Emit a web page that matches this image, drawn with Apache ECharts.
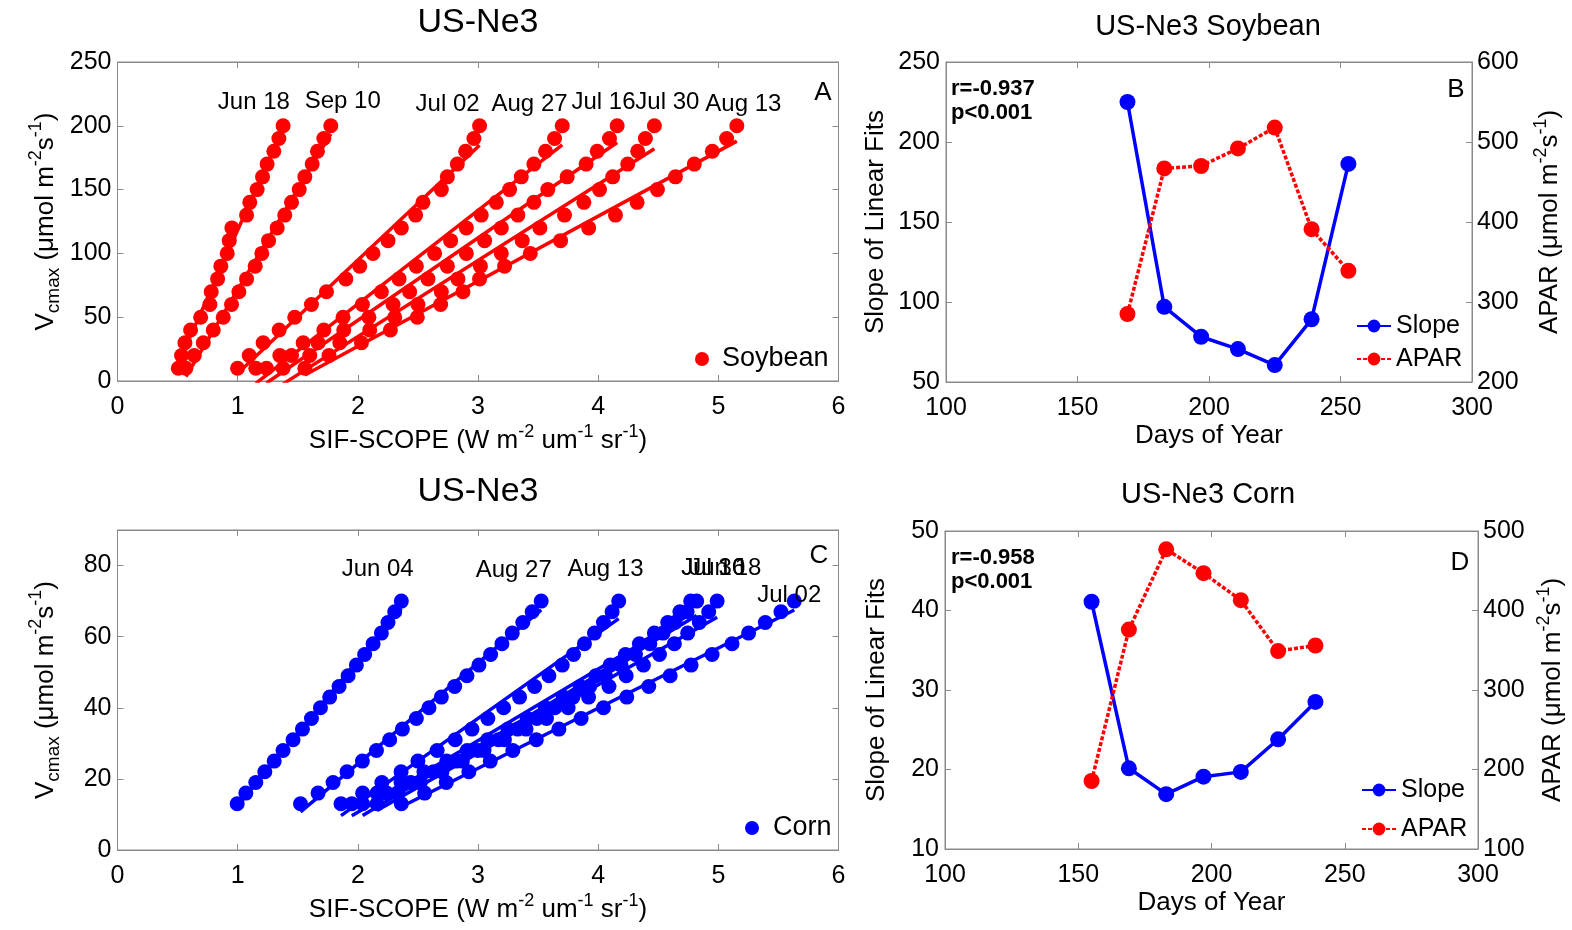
<!DOCTYPE html>
<html><head><meta charset="utf-8">
<script src="https://cdn.jsdelivr.net/npm/echarts@6/dist/echarts.min.js"></script>
<style>html,body{margin:0;padding:0;background:#fff}#c{width:1572px;height:930px}</style>
</head><body><div id="c"></div>
<script>
// ---------------- data ----------------
const soyDates = ['Jun 18','Sep 10','Jul 02','Aug 27','Jul 16','Jul 30','Aug 13'];
const soyVcmax = [10,20,30,40,50,60,70,80,90,100,110,120,130,140,150,160,170,180,190,200];
const soySifJun18 = [0.506,0.533,0.561,0.608,0.692,0.769,0.780,0.833,0.860,0.913,0.930,0.952,1.074,1.101,1.162,1.207,1.245,1.301,1.343,1.378];
const soySifSep10 = [0.569,0.639,0.714,0.797,0.880,0.949,1.010,1.074,1.146,1.201,1.257,1.329,1.392,1.448,1.512,1.559,1.620,1.664,1.717,1.775];
const soySifJul02 = [0.999,1.096,1.212,1.345,1.475,1.614,1.739,1.900,2.016,2.126,2.251,2.362,2.481,2.542,2.695,2.745,2.828,2.897,2.966,3.013];
const soySifAug27 = [1.151,1.351,1.545,1.717,1.877,2.038,2.196,2.343,2.487,2.639,2.772,2.903,3.027,3.152,3.263,3.360,3.465,3.562,3.637,3.701];
const soySifJul16 = [1.240,1.448,1.669,1.883,2.092,2.293,2.431,2.584,2.745,2.903,3.055,3.194,3.332,3.465,3.581,3.742,3.900,3.992,4.094,4.158];
const soySifJul30 = [1.378,1.600,1.850,2.099,2.307,2.500,2.695,2.833,3.020,3.194,3.368,3.515,3.720,3.881,4.011,4.121,4.246,4.329,4.393,4.468];
const soySifAug13 = [1.559,1.760,2.030,2.271,2.495,2.689,2.875,3.013,3.221,3.435,3.687,3.921,4.144,4.324,4.493,4.643,4.800,4.950,5.069,5.154];
const soySifs = [soySifJun18,soySifSep10,soySifJul02,soySifAug27,soySifJul16,soySifJul30,soySifAug13];

const cornDates = ['Jun 04','Aug 27','Aug 13','Jul 16','Jul 30','Jun 18','Jul 02'];
const cornVcmax = [13,16,19,22,25,28,31,34,37,40,43,46,49,52,55,58,61,64,67,70];
const cornSifJun04 = [0.996,1.068,1.151,1.226,1.304,1.378,1.461,1.539,1.614,1.689,1.766,1.844,1.919,1.988,2.057,2.127,2.196,2.251,2.307,2.362];
const cornSifAug27 = [1.523,1.669,1.794,1.910,2.038,2.155,2.265,2.371,2.487,2.592,2.695,2.806,2.908,3.008,3.105,3.199,3.285,3.373,3.451,3.526];
const cornSifAug13 = [1.86,2.04,2.20,2.36,2.50,2.66,2.81,2.95,3.082,3.213,3.346,3.471,3.590,3.701,3.795,3.886,3.969,4.044,4.116,4.171];
const cornSifJul16 = [1.95,2.16,2.36,2.55,2.74,2.91,3.08,3.25,3.41,3.56,3.71,3.85,3.98,4.10,4.227,4.343,4.468,4.579,4.68,4.77];
const cornSifJul30 = [2.04,2.24,2.44,2.63,2.82,3.00,3.17,3.33,3.49,3.64,3.79,3.93,4.06,4.19,4.31,4.43,4.54,4.64,4.74,4.82];
const cornSifJun18 = [2.16,2.33,2.52,2.70,2.87,3.05,3.22,3.40,3.57,3.75,3.92,4.09,4.233,4.377,4.51,4.634,4.745,4.842,4.92,4.99];
const cornSifJul02 = [2.362,2.556,2.736,2.924,3.102,3.290,3.485,3.673,3.858,4.044,4.238,4.421,4.599,4.773,4.948,5.114,5.252,5.391,5.521,5.632];
const cornSifs = [cornSifJun04,cornSifAug27,cornSifAug13,cornSifJul16,cornSifJul30,cornSifJun18,cornSifJul02];

const soyDays  = [169,183,197,211,225,239,253];
const soySlope = [225,97,78.3,70.6,60.6,89.2,186.3];
const soyApar  = [285,467,470,492,518,391,339];
const cornDays  = [155,169,183,197,211,225,239];
const cornSlope = [41.1,20.15,16.9,19.1,19.7,23.8,28.5];
const cornApar  = [185.5,376,477,447,413,349,356];

// ---------------- layout (label anchors, in data units) ----------------
const soyLabelAt  = [[1.135,218],[1.874,219],[2.747,217],[3.429,217],[4.044,218],[4.576,218],[5.208,217]];
const cornLabelAt = [[2.165,78.9],[3.297,78.7],[4.061,78.9],[4.958,79.1],[4.958,79.1],[5.058,79.1],[5.59,71.5]];

const FONT = 'Liberation Sans, Arial, Helvetica, sans-serif';
const RED = '#ff0000', BLUE = '#0000ff', GRAY = '#8a8a8a';

function lsFit(xs, ys){
  const n = xs.length;
  const mx = xs.reduce((a,b)=>a+b,0)/n, my = ys.reduce((a,b)=>a+b,0)/n;
  let sxy=0, sxx=0;
  for(let i=0;i<n;i++){ sxy+=(xs[i]-mx)*(ys[i]-my); sxx+=(xs[i]-mx)*(xs[i]-mx); }
  const a = sxy/sxx, b = my - a*mx;
  const x0 = Math.min(...xs), x1 = Math.max(...xs);
  return [[x0, a*x0+b],[x1, a*x1+b]];
}

const supRich = {
  a:{fontSize:26, lineHeight:36, fontFamily:FONT, color:'#000'},
  sup:{fontSize:18, lineHeight:18, verticalAlign:'top', fontFamily:FONT, color:'#000'},
  sub:{fontSize:19, lineHeight:18, verticalAlign:'bottom', fontFamily:FONT, color:'#000'}
};

function axis(o){
  const base = {
    type:'value', gridIndex:o.grid, position:o.pos, min:o.min, max:o.max, interval:o.interval,
    splitLine:{show:false},
    axisLine:{show:true, onZero:false, lineStyle:{color:GRAY, width:1}},
    axisTick:{show:true, inside:true, length:6, lineStyle:{color:GRAY, width:1}},
    axisLabel:{show:o.label!==false, fontSize:25, fontFamily:FONT, color:'#000', margin:o.margin||6,
               showMaxLabel:o.showMax!==false},
    nameMoveOverlap:false
  };
  if(o.name){
    Object.assign(base,{name:o.name, nameLocation:'middle', nameGap:o.nameGap,
      nameRotate:o.nameRotate, nameTextStyle:{fontSize:26, fontFamily:FONT, color:'#000', lineHeight:36, rich:supRich}});
  }
  return base;
}

const grids = [
  {left:117.5, top:62, width:721, height:319},
  {left:946, top:62, width:526, height:320},
  {left:117.5, top:530, width:721, height:320},
  {left:945, top:531, width:533, height:318}
];

const sifName = '{a|SIF-SCOPE (W m}{sup|-2}{a| um}{sup|-1}{a| sr}{sup|-1}{a|)}';
const xAxes = [
  axis({grid:0,pos:'bottom',min:0,max:6,interval:1,margin:14,name:sifName, nameGap:42}),
  axis({grid:0,pos:'top',min:0,max:6,interval:1,label:false}),
  axis({grid:1,pos:'bottom',min:100,max:300,interval:50,margin:14,name:'{a|Days of Year}',nameGap:36}),
  axis({grid:1,pos:'top',min:100,max:300,interval:50,label:false}),
  axis({grid:2,pos:'bottom',min:0,max:6,interval:1,margin:14,name:sifName, nameGap:42}),
  axis({grid:2,pos:'top',min:0,max:6,interval:1,label:false}),
  axis({grid:3,pos:'bottom',min:100,max:300,interval:50,margin:14,name:'{a|Days of Year}',nameGap:36}),
  axis({grid:3,pos:'top',min:100,max:300,interval:50,label:false})
];
const vName = '{a|V}{sub|cmax}{a| (μmol m}{sup|-2}{a|s}{sup|-1}{a|)}';
const aparName = '{a|APAR (μmol m}{sup|-2}{a|s}{sup|-1}{a|)}';
const yAxes = [
  axis({grid:0,pos:'left',min:0,max:250,interval:50,name:vName,nameGap:54,nameRotate:90}),
  axis({grid:0,pos:'right',min:0,max:250,interval:50,label:false}),
  axis({grid:1,pos:'left',min:50,max:250,interval:50,name:'{a|Slope of Linear Fits}',nameGap:52,nameRotate:90}),
  axis({grid:1,pos:'right',min:200,max:600,interval:100,margin:5,name:aparName,nameGap:60,nameRotate:90}),
  axis({grid:2,pos:'left',min:0,max:90,interval:20,showMax:false,name:vName,nameGap:54,nameRotate:90}),
  axis({grid:2,pos:'right',min:0,max:90,interval:20,label:false}),
  axis({grid:3,pos:'left',min:10,max:50,interval:10,name:'{a|Slope of Linear Fits}',nameGap:50,nameRotate:90}),
  axis({grid:3,pos:'right',min:100,max:500,interval:100,margin:5,name:aparName,nameGap:57,nameRotate:90})
];

const series = [];
// Panel A: soybean scatter + fits
const soyPts = [];
soySifs.forEach(s => s.forEach((x,i)=>soyPts.push([x, soyVcmax[i]])));
series.push({name:'Soybean', type:'scatter', xAxisIndex:0, yAxisIndex:0, data:soyPts,
  symbolSize:15, itemStyle:{color:RED, opacity:1}, z:2});
soySifs.forEach((s,k)=>series.push({name:'soyfit'+k, type:'line', xAxisIndex:0, yAxisIndex:0,
  data:lsFit(s, soyVcmax), showSymbol:false, symbol:'none', lineStyle:{color:RED,width:3.5}, z:3, clip:true, silent:true}));

// Panel C: corn
const cornPts = [];
cornSifs.forEach(s => s.forEach((x,i)=>cornPts.push([x, cornVcmax[i]])));
series.push({name:'Corn', type:'scatter', xAxisIndex:4, yAxisIndex:4, data:cornPts,
  symbolSize:15, itemStyle:{color:BLUE, opacity:1}, z:2});
cornSifs.forEach((s,k)=>series.push({name:'cornfit'+k, type:'line', xAxisIndex:4, yAxisIndex:4,
  data:lsFit(s, cornVcmax), showSymbol:false, symbol:'none', lineStyle:{color:BLUE,width:3.5}, z:3, clip:true, silent:true}));

// Panel B
series.push({name:'Slope', type:'line', xAxisIndex:2, yAxisIndex:2,
  data:soyDays.map((d,i)=>[d,soySlope[i]]), symbol:'circle', symbolSize:16,
  lineStyle:{color:BLUE,width:3.5}, itemStyle:{color:BLUE}, z:3});
series.push({name:'APAR', type:'line', xAxisIndex:2, yAxisIndex:3,
  data:soyDays.map((d,i)=>[d,soyApar[i]]), symbol:'circle', symbolSize:16,
  lineStyle:{color:RED,width:3.5,type:[4,2]}, itemStyle:{color:RED}, z:3});
// Panel D
series.push({name:'Slope', type:'line', xAxisIndex:6, yAxisIndex:6,
  data:cornDays.map((d,i)=>[d,cornSlope[i]]), symbol:'circle', symbolSize:16,
  lineStyle:{color:BLUE,width:3.5}, itemStyle:{color:BLUE}, z:3});
series.push({name:'APAR', type:'line', xAxisIndex:6, yAxisIndex:7,
  data:cornDays.map((d,i)=>[d,cornApar[i]]), symbol:'circle', symbolSize:16,
  lineStyle:{color:RED,width:3.5,type:[4,2]}, itemStyle:{color:RED}, z:3});

const legTxt = (fs)=>({fontSize:fs, fontFamily:FONT, color:'#000', lineHeight:28, padding:[0,0,0,0]});
const legends = [
  {data:['Soybean'], left:695, top:345, orient:'vertical', itemWidth:14, itemHeight:14, padding:0,
   icon:'circle', textStyle:Object.assign(legTxt(27),{padding:[0,0,0,8]}), selectedMode:false},
  {data:['Corn'], left:745, top:814, orient:'vertical', itemWidth:14, itemHeight:14, padding:0,
   icon:'circle', textStyle:Object.assign(legTxt(27),{padding:[0,0,0,9]}), selectedMode:false},
  {data:['Slope','APAR'], left:1356, top:312, orient:'vertical', itemWidth:34, itemHeight:16, itemGap:5, padding:0,
   textStyle:legTxt(25), selectedMode:false},
  {data:['Slope','APAR'], left:1361, top:776, orient:'vertical', itemWidth:34, itemHeight:16, itemGap:11, padding:0,
   textStyle:legTxt(25), selectedMode:false}
];

function txt(x,y,t,fs,bold,align){
  return {type:'text', x:x, y:y, silent:true, z:10,
    style:{text:t, fontSize:fs, fontFamily:FONT, fontWeight:bold?'bold':'normal', fill:'#000',
           align:align||'center', verticalAlign:'middle'}};
}

const chart = echarts.init(document.getElementById('c'), null, {renderer:'canvas'});
chart.setOption({
  backgroundColor:'#fff', animation:false,
  grid: grids.map(g=>Object.assign({show:true, borderColor:GRAY, borderWidth:1, backgroundColor:'#fff', containLabel:false}, g)),
  xAxis:xAxes, yAxis:yAxes, series:series, legend:legends
});

// date labels placed through the axes' own scales
const graphics = [
  txt(478,23,'US-Ne3',34), txt(1208,27,'US-Ne3 Soybean',29),
  txt(478,492,'US-Ne3',34), txt(1208,495,'US-Ne3 Corn',29),
  txt(823,93,'A',26), txt(1456,90,'B',26), txt(819,556,'C',26), txt(1460,563,'D',26),
  txt(951,89,'r=-0.937',22,true,'left'), txt(951,113,'p<0.001',22,true,'left'),
  txt(951,558,'r=-0.958',22,true,'left'), txt(951,582,'p<0.001',22,true,'left')
];
soyDates.forEach((d,i)=>{
  const p = chart.convertToPixel({xAxisIndex:0, yAxisIndex:0}, soyLabelAt[i]);
  graphics.push(txt(p[0],p[1],d,24));
});
cornDates.forEach((d,i)=>{
  const p = chart.convertToPixel({xAxisIndex:4, yAxisIndex:4}, cornLabelAt[i]);
  graphics.push(txt(p[0],p[1],d,24));
});
chart.setOption({graphic:graphics});
</script></body></html>
